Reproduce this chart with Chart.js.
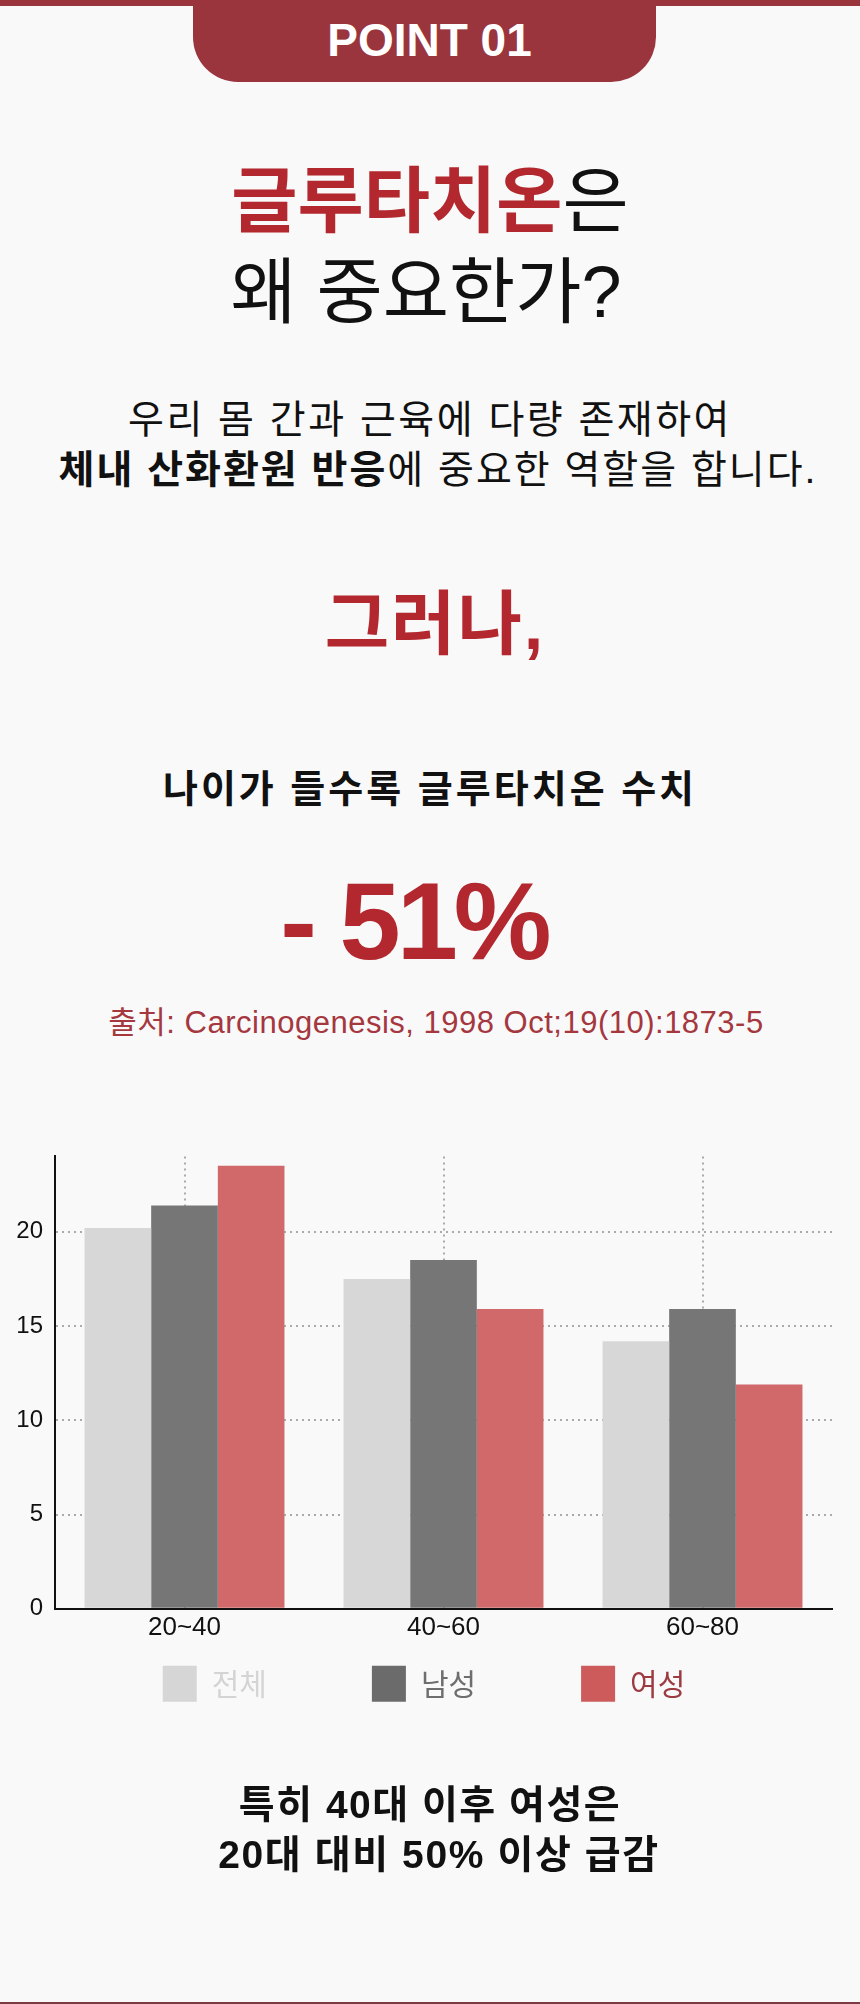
<!DOCTYPE html>
<html lang="ko">
<head>
    <meta charset="UTF-8">
    <meta name="viewport" content="width=device-width, initial-scale=1.0">
    <title>글루타치온은 왜 중요한가?</title>
    <script src="https://cdn.jsdelivr.net/npm/chart.js"></script>
    <style>
        body {
            margin: 0;
            width: 860px;
            height: 2004px;
            position: relative;
            overflow: hidden;
            background-color: #f9f9f9;
            font-family: "Liberation Sans", "Noto Sans CJK KR", sans-serif;
            color: #111;
        }

        .topbar {
            position: absolute;
            top: 0;
            left: 0;
            width: 860px;
            height: 6px;
            background-color: #9b353d;
        }

        .tab {
            position: absolute;
            top: 0;
            left: 193px;
            width: 463px;
            height: 82px;
            background-color: #9b353d;
            border-radius: 0 0 45px 45px;
            color: #fff;
            font-weight: bold;
            font-size: 46px;
            line-height: 1;
            text-align: center;
            box-sizing: border-box;
            padding-top: 17px;
            padding-left: 10px;
        }

        .line {
            position: absolute;
            left: 0;
            width: 860px;
            text-align: center;
            line-height: 1;
            white-space: nowrap;
        }

        .red {
            color: #b3272e;
        }

        .b {
            font-weight: bold;
        }

        .chart-box {
            position: absolute;
            top: 1130px;
            left: 0;
            width: 860px;
            height: 667px;
        }

        .bottom-line {
            position: absolute;
            left: 0;
            top: 2002px;
            width: 860px;
            height: 2px;
            background-color: #7b3a43;
        }
    </style>
</head>
<body>
    <div class="topbar"></div>
    <div class="tab">POINT 01</div>

    <div class="chart-box">
        <canvas id="glutathioneChart"></canvas>
    </div>

    <div class="line" style="top:165px; font-size:72px;"><span class="red b">글루타치온</span>은</div>
    <div class="line" style="top:256px; left:-4px; font-size:72px;">왜 중요한가?</div>

    <div class="line" style="top:400px; font-size:39px; letter-spacing:2.5px;">우리 몸 간과 근육에 다량 존재하여</div>
    <div class="line" style="top:450px; left:8px; font-size:39px; letter-spacing:2px;"><span class="b">체내 산화환원 반응</span>에 중요한 역할을 합니다.</div>

    <div class="line red b" style="top:590px; left:5px; font-size:70px; letter-spacing:2px;">그러나,</div>

    <div class="line b" style="top:770px; font-size:38px; letter-spacing:3px;">나이가 들수록 글루타치온 수치</div>

    <div class="line red b" style="top:866px; left:-16px; font-size:110px; letter-spacing:-4px;">- 51%</div>

    <div class="line" style="top:1007px; left:6px; font-size:31px; color:#a5373f; letter-spacing:0.5px;">출처: Carcinogenesis, 1998 Oct;19(10):1873-5</div>

    <div class="line b" style="top:1785px; font-size:39px; letter-spacing:1.5px;">특히 40대 이후 여성은</div>
    <div class="line b" style="top:1835px; left:9px; font-size:39px; letter-spacing:1.6px;">20대 대비 50% 이상 급감</div>

    <div class="bottom-line"></div>

    <script>
        // 연령대별 글루타치온 수치
        const ageGroups = ['20~40', '40~60', '60~80'];
        const seriesNames = ['전체', '남성', '여성'];
        const totalValues = [20.2, 17.5, 14.2];
        const maleValues = [21.4, 18.5, 15.9];
        const femaleValues = [23.5, 15.9, 11.9];
        const yTickValues = [0, 5, 10, 15, 20];
        const yMax = 24;

        const barColors = ['#d7d7d7', '#767676', '#d1696a'];
        const legendBoxColors = ['#d6d6d6', '#6b6b6b', '#cd5b5b'];
        const legendTextColors = ['#d4d4d4', '#6e6e6e', '#9e3a42'];

        const gridColor = '#ababab';
        const gridDash = [2, 4];

        // 범례를 x축 바로 아래에 붙이기 (padding은 가로 간격용)
        const legendLift = {
            id: 'legendLift',
            afterLayout(chart) {
                const lg = chart.legend;
                if (!lg) return;
                const wantTop = chart.chartArea.bottom + 57 - lg.options.labels.padding;
                const shift = lg.top - wantTop;
                lg.top -= shift;
                lg.bottom -= shift;
            }
        };

        const ctx = document.getElementById('glutathioneChart').getContext('2d');
        new Chart(ctx, {
            type: 'bar',
            data: {
                labels: ageGroups,
                datasets: [
                    { label: seriesNames[0], data: totalValues, backgroundColor: barColors[0] },
                    { label: seriesNames[1], data: maleValues, backgroundColor: barColors[1] },
                    { label: seriesNames[2], data: femaleValues, backgroundColor: barColors[2] }
                ]
            },
            options: {
                responsive: true,
                maintainAspectRatio: false,
                animation: false,
                datasets: {
                    bar: {
                        categoryPercentage: 0.772,
                        barPercentage: 1.0,
                        borderWidth: 0
                    }
                },
                layout: {
                    padding: { top: 25, left: 16, right: 28, bottom: 0 }
                },
                scales: {
                    x: {
                        grid: {
                            offset: false,
                            drawTicks: false,
                            color: gridColor,
                            lineWidth: 2
                        },
                        border: { color: '#111', width: 2, dash: gridDash, z: 1 },
                        ticks: {
                            color: '#111',
                            padding: 3,
                            font: { family: '"Liberation Sans", sans-serif', size: 26 }
                        }
                    },
                    y: {
                        min: 0,
                        max: yMax,
                        afterBuildTicks: (scale) => {
                            scale.ticks = yTickValues.map(v => ({ value: v }));
                        },
                        afterFit: (scale) => {
                            scale.width = 39;
                        },
                        grid: {
                            drawTicks: false,
                            color: gridColor,
                            lineWidth: 2
                        },
                        border: { color: '#111', width: 2, dash: gridDash, z: 1 },
                        ticks: {
                            color: '#111',
                            padding: 12,
                            font: { family: '"Liberation Sans", sans-serif', size: 24 }
                        }
                    }
                },
                plugins: {
                    tooltip: { enabled: false },
                    legend: {
                        position: 'bottom',
                        labels: {
                            boxWidth: 34,
                            boxHeight: 36,
                            padding: 105,
                            font: { family: '"Noto Sans CJK KR", sans-serif', size: 30 },
                            generateLabels: (chart) => {
                                const items = Chart.defaults.plugins.legend.labels.generateLabels(chart);
                                items.forEach((item, i) => {
                                    item.fillStyle = legendBoxColors[i];
                                    item.fontColor = legendTextColors[i];
                                    item.lineWidth = 0;
                                });
                                return items;
                            }
                        }
                    }
                }
            },
            plugins: [legendLift]
        });
    </script>
</body>
</html>
